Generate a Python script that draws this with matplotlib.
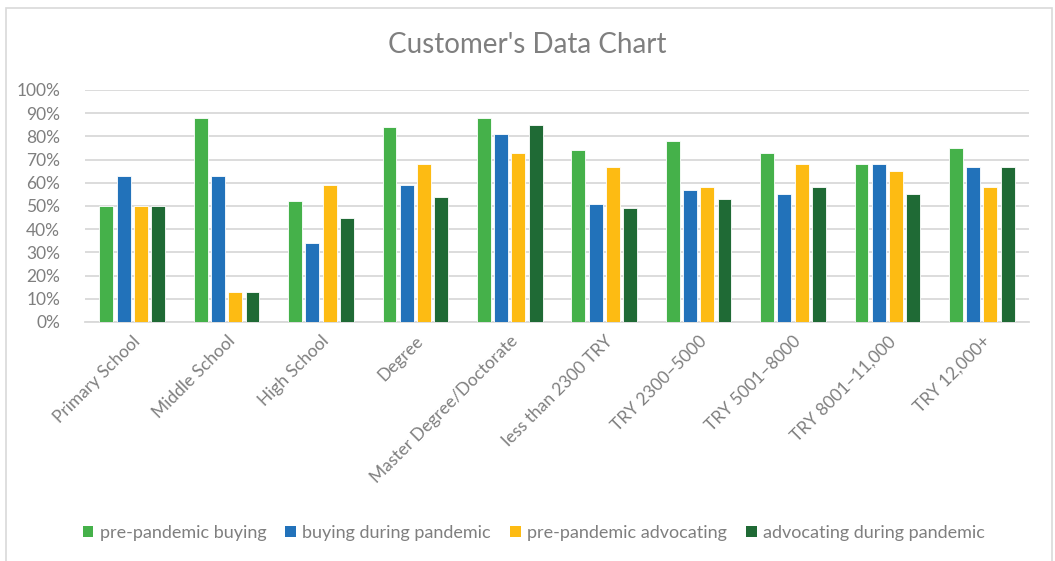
import matplotlib
matplotlib.use("Agg")
import matplotlib.pyplot as plt
import numpy as np
from matplotlib.patches import Rectangle, Patch

plt.rcParams['font.family'] = ['Lato', 'DejaVu Sans']

categories = ["Primary School", "Middle School", "High School", "Degree",
              "Master Degree/Doctorate", "less than 2300 TRY", "TRY 2300\u20135000",
              "TRY 5001\u20138000", "TRY 8001\u201311,000", "TRY 12,000+"]
series_names = ["pre-pandemic buying", "buying during pandemic",
                "pre-pandemic advocating", "advocating during pandemic"]
pre_buying = [50, 88, 52, 84, 88, 74, 78, 73, 68, 75]
during_buying = [63, 63, 34, 59, 81, 51, 57, 55, 68, 67]
pre_advocating = [50, 13, 59, 68, 73, 67, 58, 68, 65, 58]
during_advocating = [50, 13, 45, 54, 85, 49, 53, 58, 55, 67]
colors = ["#45B14A", "#2272BA", "#FDBB13", "#1F6A35"]

text_gray = "#7F7F7F"
grid_gray = "#D9D9D9"

fig = plt.figure(figsize=(10.55, 5.61), dpi=100)
ax = fig.add_axes([85 / 1055, 1 - 322 / 561, (1029 - 85) / 1055, (322 - 90) / 561])

x = np.arange(len(categories))
pitch = 0.183
width = 0.148
all_series = [pre_buying, during_buying, pre_advocating, during_advocating]
for i, (vals, col, name) in enumerate(zip(all_series, colors, series_names)):
    ax.bar(x + (i - 1.5) * pitch, np.array(vals) / 100, width, color=col,
           edgecolor="white", linewidth=0.6, label=name, zorder=3)

ax.set_xlim(-0.5, len(categories) - 0.5)
ax.set_ylim(0, 1)
ax.set_yticks(np.arange(0, 1.01, 0.1))
ax.set_yticklabels([f"{int(round(v * 100))}%" for v in np.arange(0, 1.01, 0.1)])
ax.yaxis.grid(True, color=grid_gray, linewidth=1.3, zorder=0)
ax.set_axisbelow(True)
for s in ["top", "right", "left"]:
    ax.spines[s].set_visible(False)
ax.spines["bottom"].set_color(grid_gray)
ax.spines["bottom"].set_linewidth(1.3)
ax.tick_params(axis="both", length=0, colors=text_gray, labelsize=12.5)
ax.tick_params(axis="y", pad=18)
ax.set_xticks(x)
ax.set_xticklabels(categories, rotation=45, ha="right", rotation_mode="anchor")
ax.tick_params(axis="x", pad=8)

fig.text(0.5, 1 - 45 / 561, "Customer's Data Chart", ha="center", va="center",
         fontsize=20, color=text_gray)

handles = [Patch(facecolor=c, edgecolor="none", label=n) for c, n in zip(colors, series_names)]
fig.legend(handles=handles, loc="center", bbox_to_anchor=(0.506, 1 - 533 / 561), ncol=4,
           frameon=False, fontsize=13, labelcolor=text_gray, handlelength=0.6,
           handleheight=0.6, handletextpad=0.35, columnspacing=1.05)

fig.patches.append(Rectangle((6 / 1055, -0.1), (1052 - 6) / 1055, 1.1 - 8 / 561,
                             transform=fig.transFigure, fill=False,
                             edgecolor="#D9D9D9", linewidth=1.2))

fig.savefig("out.png", dpi=100)
